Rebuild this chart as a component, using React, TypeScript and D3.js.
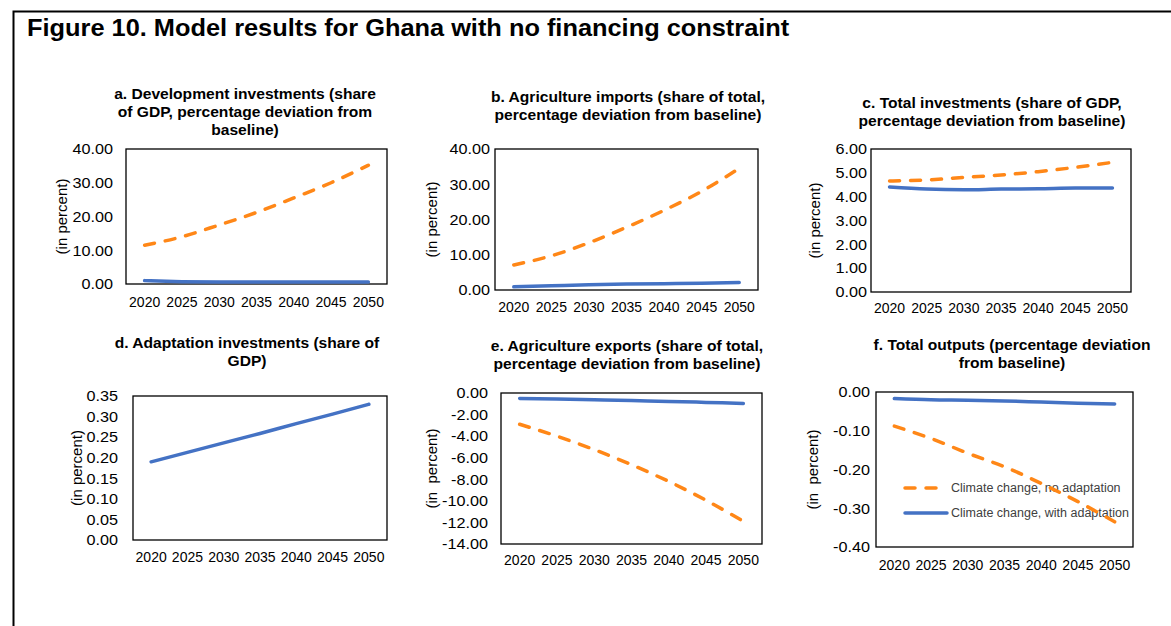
import React from "react";
import * as d3 from "d3";

// chart values
const years = ["2020", "2025", "2030", "2035", "2040", "2045", "2050"];

const devInvNoAdapt = [11.5, 14.0, 17.5, 21.2, 25.5, 30.0, 35.2];
const devInvAdapt = [1.0, 0.7, 0.6, 0.6, 0.6, 0.6, 0.6];

const agImpNoAdapt = [7.1, 9.7, 13.4, 17.8, 22.6, 28.0, 34.5];
const agImpAdapt = [0.9, 1.2, 1.5, 1.7, 1.8, 1.9, 2.1];

const totInvNoAdapt = [4.66, 4.7, 4.81, 4.91, 5.05, 5.23, 5.44];
const totInvAdapt = [4.41, 4.32, 4.29, 4.32, 4.33, 4.36, 4.36];

const adaptInv = [0.19, 0.213, 0.236, 0.259, 0.283, 0.306, 0.33];

const agExpNoAdapt = [-2.9, -4.0, -5.25, -6.65, -8.2, -9.95, -11.9];
const agExpAdapt = [-0.5, -0.55, -0.62, -0.7, -0.78, -0.87, -0.97];

const totOutNoAdapt = [-0.088, -0.12, -0.158, -0.193, -0.236, -0.283, -0.335];
const totOutAdapt = [-0.017, -0.02, -0.021, -0.023, -0.026, -0.029, -0.031];

const legendLabels = [
  "Climate change, no adaptation",
  "Climate change, with adaptation",
];

const ORANGE = "#FF8717";
const BLUE = "#4472C4";
const FONT = "'Liberation Sans', Arial, sans-serif";

type PanelDef = {
  id: string;
  title: string[];
  titleX: number;
  titleY: number;
  yLabel: string;
  yLabelX: number;
  box: { x0: number; x1: number; y0: number; y1: number };
  domain: [number, number];
  step: number;
  tickGap: number;
  xLabelY: number;
  orange?: number[];
  blue: number[];
  legend?: boolean;
};

const panels: PanelDef[] = [
  {
    id: "a",
    title: [
      "a. Development investments (share",
      "of GDP, percentage deviation from",
      "baseline)",
    ],
    titleX: 245,
    titleY: 94,
    yLabel: "(in percent)",
    yLabelX: 62,
    box: { x0: 126, x1: 387, y0: 149, y1: 284 },
    domain: [0, 40],
    step: 10,
    tickGap: 13,
    xLabelY: 302,
    orange: devInvNoAdapt,
    blue: devInvAdapt,
  },
  {
    id: "b",
    title: [
      "b. Agriculture imports (share of total,",
      "percentage deviation from baseline)",
    ],
    titleX: 628,
    titleY: 97,
    yLabel: "(in percent)",
    yLabelX: 432,
    box: { x0: 495, x1: 758, y0: 149, y1: 290 },
    domain: [0, 40],
    step: 10,
    tickGap: 5,
    xLabelY: 307,
    orange: agImpNoAdapt,
    blue: agImpAdapt,
  },
  {
    id: "c",
    title: [
      "c. Total investments (share of GDP,",
      "percentage deviation from baseline)",
    ],
    titleX: 992,
    titleY: 103,
    yLabel: "(in percent)",
    yLabelX: 815,
    box: { x0: 871, x1: 1131, y0: 149, y1: 292 },
    domain: [0, 6],
    step: 1,
    tickGap: 4,
    xLabelY: 308,
    orange: totInvNoAdapt,
    blue: totInvAdapt,
  },
  {
    id: "d",
    title: ["d. Adaptation investments (share of", "GDP)"],
    titleX: 247,
    titleY: 343,
    yLabel: "(in percent)",
    yLabelX: 77,
    box: { x0: 133, x1: 387, y0: 396, y1: 540 },
    domain: [0, 0.35],
    step: 0.05,
    tickGap: 15,
    xLabelY: 557,
    blue: adaptInv,
  },
  {
    id: "e",
    title: [
      "e. Agriculture exports (share of total,",
      "percentage deviation from baseline)",
    ],
    titleX: 627,
    titleY: 346,
    yLabel: "(in  percent)",
    yLabelX: 432,
    box: { x0: 501, x1: 762, y0: 393, y1: 544 },
    domain: [-14, 0],
    step: 2,
    tickGap: 13,
    xLabelY: 560,
    orange: agExpNoAdapt,
    blue: agExpAdapt,
  },
  {
    id: "f",
    title: ["f. Total outputs (percentage deviation", "from baseline)"],
    titleX: 1012,
    titleY: 345,
    yLabel: "(in  percent)",
    yLabelX: 813,
    box: { x0: 876, x1: 1133, y0: 392, y1: 547 },
    domain: [-0.4, 0],
    step: 0.1,
    tickGap: 6,
    xLabelY: 565,
    orange: totOutNoAdapt,
    blue: totOutAdapt,
    legend: true,
  },
];

// text that is slightly widened, the reference lettering is a bit stretched
const T: React.FC<{
  x: number;
  y: number;
  size: number;
  sx?: number;
  anchor?: "start" | "middle" | "end";
  bold?: boolean;
  fill?: string;
  rotate?: number;
  children: React.ReactNode;
}> = ({ x, y, size, sx = 1, anchor = "start", bold, fill = "#000", rotate, children }) => (
  <text
    transform={`translate(${x},${y})${rotate ? ` rotate(${rotate})` : ""} scale(${sx},1)`}
    dy="0.35em"
    textAnchor={anchor}
    fontSize={size}
    fontWeight={bold ? "bold" : "normal"}
    fill={fill}
    style={{ whiteSpace: "pre" }}
  >
    {children}
  </text>
);

const Panel: React.FC<{ p: PanelDef }> = ({ p }) => {
  const { x0, x1, y0, y1 } = p.box;
  const x = d3.scaleBand<string>().domain(years).range([x0, x1]);
  const y = d3.scaleLinear().domain(p.domain).range([y1, y0]);
  const n = Math.round((p.domain[1] - p.domain[0]) / p.step);
  const ticks = d3.range(n + 1).map((i) => +(p.domain[0] + i * p.step).toFixed(6));
  const line = d3
    .line<number>()
    .x((_, i) => x(years[i])! + x.bandwidth() / 2)
    .y((d) => y(d))
    .curve(d3.curveMonotoneX);
  const cy = (y0 + y1) / 2;

  return (
    <g>
      {p.title.map((t, i) => (
        <T key={i} x={p.titleX} y={p.titleY + i * 18} size={15} sx={1.04} anchor="middle" bold>
          {t}
        </T>
      ))}
      <rect
        x={x0}
        y={y0}
        width={x1 - x0}
        height={y1 - y0}
        fill="none"
        stroke="#000"
        strokeWidth={1.3}
      />
      {ticks.map((v) => (
        <T key={v} x={x0 - p.tickGap} y={y(v)} size={15} sx={1.08} anchor="end">
          {v.toFixed(2)}
        </T>
      ))}
      {years.map((yr) => (
        <T key={yr} x={x(yr)! + x.bandwidth() / 2} y={p.xLabelY} size={14} anchor="middle">
          {yr}
        </T>
      ))}
      <T x={p.yLabelX} y={cy} size={15} anchor="middle" rotate={-90}>
        {p.yLabel}
      </T>
      <path
        d={line(p.blue)!}
        fill="none"
        stroke={BLUE}
        strokeWidth={3.5}
        strokeLinecap="round"
      />
      {p.legend && (
        <g>
          <line
            x1={905}
            x2={947}
            y1={488}
            y2={488}
            stroke={ORANGE}
            strokeWidth={3.5}
            strokeDasharray="10,11"
            strokeLinecap="round"
          />
          <T x={951} y={488} size={12.5} fill="#404040">
            {legendLabels[0]}
          </T>
          <line
            x1={905}
            x2={947}
            y1={513}
            y2={513}
            stroke={BLUE}
            strokeWidth={3.5}
            strokeLinecap="round"
          />
          <T x={951} y={513} size={12.5} fill="#404040">
            {legendLabels[1]}
          </T>
        </g>
      )}
      {p.orange && (
        <path
          d={line(p.orange)!}
          fill="none"
          stroke={ORANGE}
          strokeWidth={3.5}
          strokeDasharray="10,11"
          strokeLinecap="round"
        />
      )}
    </g>
  );
};

export default function App() {
  return (
    <svg
      width={1171}
      height={626}
      style={{ position: "absolute", left: 0, top: 0, background: "#fff" }}
      fontFamily={FONT}
    >
      <rect width={1171} height={626} fill="#fff" />
      <path d="M1171,11.5 H13.5 V626" fill="none" stroke="#000" strokeWidth={2} />
      <T x={27} y={28} size={23.5} sx={1.08} bold>
        Figure 10. Model results for Ghana with no financing constraint
      </T>
      {panels.map((p) => (
        <Panel key={p.id} p={p} />
      ))}
    </svg>
  );
}
